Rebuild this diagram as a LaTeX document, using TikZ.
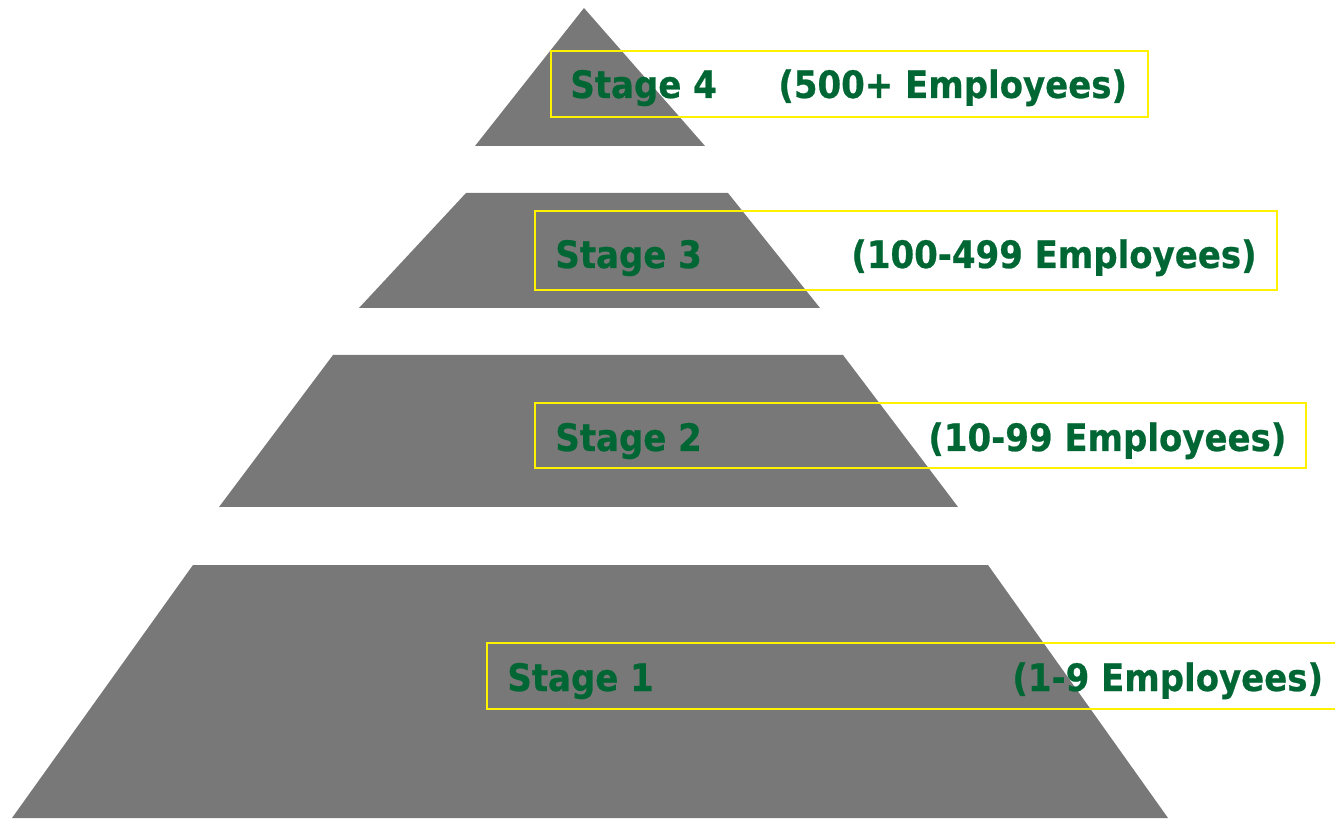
\documentclass[tikz,border=0pt]{standalone}
\usepackage{fontspec}
\setmainfont[BoldFeatures={FakeBold=0.6}]{DejaVu Sans Condensed}
\definecolor{tiergray}{HTML}{787878}
\definecolor{stagegreen}{HTML}{006633}
\tikzset{
  tier/.style={fill=tiergray},
  labelbox/.style={draw=yellow,line width=1.1pt},
  stagetext/.style={text=stagegreen,font=\fontsize{21.5}{26}\selectfont\bfseries,inner sep=0pt,anchor=base west}
}
\begin{document}
\begin{tikzpicture}[x=0.02cm,y=-0.02cm]
\useasboundingbox (0,0) rectangle (1335,820);
% pyramid tiers
\fill[tier] (584,8) -- (705,146) -- (475,146) -- cycle;
\fill[tier] (466,193) -- (728,193) -- (820,308) -- (359,308) -- cycle;
\fill[tier] (333,355) -- (843,355) -- (958,507) -- (219,507) -- cycle;
\fill[tier] (193,565) -- (988,565) -- (1168,818) -- (12,818) -- cycle;
% label frames
\draw[labelbox] (551,51) rectangle (1148,117);
\draw[labelbox] (535,211) rectangle (1277,290);
\draw[labelbox] (535,403) rectangle (1306,468);
\draw[labelbox] (487,643) rectangle (1345,709);
% texts
\node[stagetext] (stage4) at (570,98) {Stage 4};
\node[stagetext] (size4) at (778,98) {(500+ Employees)};
\node[stagetext] (stage3) at (555,268) {Stage 3};
\node[stagetext] (size3) at (851,268) {(100-499 Employees)};
\node[stagetext] (stage2) at (555,451) {Stage 2};
\node[stagetext] (size2) at (928,451) {(10-99 Employees)};
\node[stagetext] (stage1) at (507,691) {Stage 1};
\node[stagetext] (size1) at (1012,691) {(1-9 Employees)};
\end{tikzpicture}
\end{document}
